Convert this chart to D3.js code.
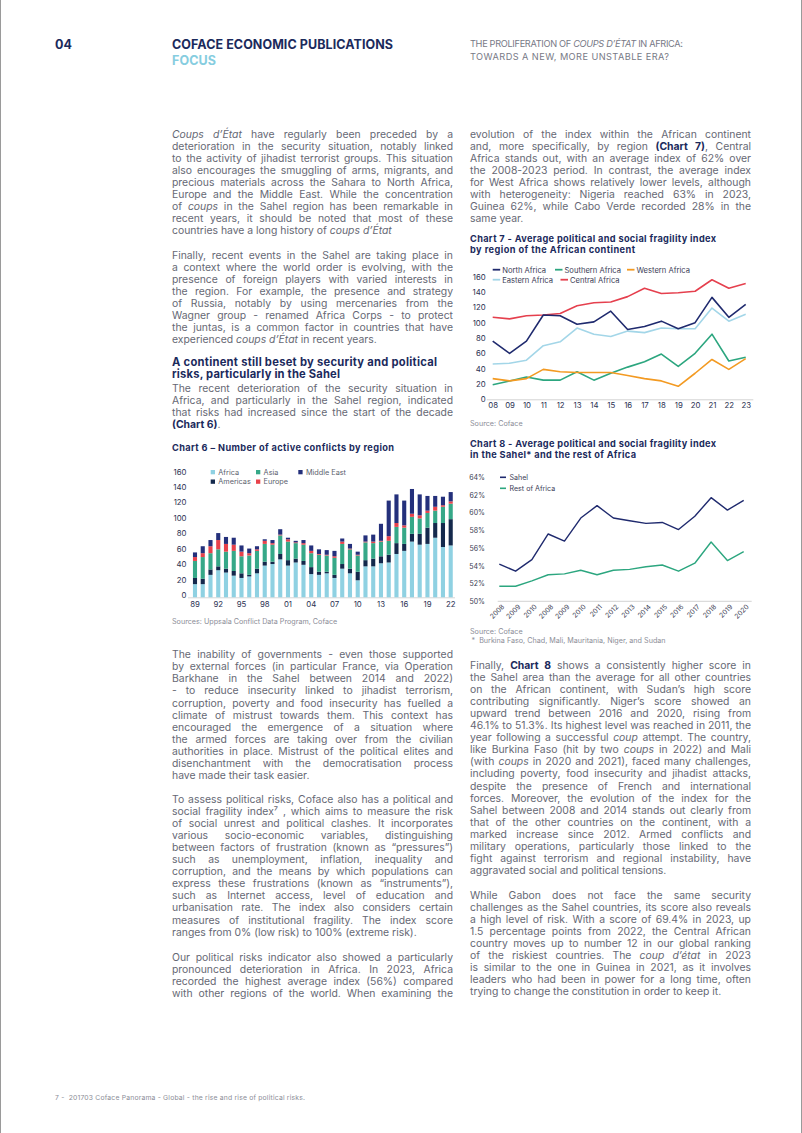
<!DOCTYPE html>
<html><head><meta charset="utf-8">
<script src="https://cdn.jsdelivr.net/npm/d3@7"></script>
<style>body{margin:0;background:#fff;} svg{display:block;}</style>
</head><body>
<svg id="page" width="802" height="1133"></svg>
<script>
// ---------------- DATA ----------------
const c6Years = d3.range(1989, 2023);
const c6TickYears = [1989,1992,1995,1998,2001,2004,2007,2010,2013,2016,2019,2022];
const c6Africa     = [17,17,29,35,32,28,25,27,31,41,43,49,41,45,42,30,29,31,25,37,31,22,40,40,44,45,56,60,72,68,69,77,65,67];
const c6Americas   = [8,7,7,5,5,6,6,2,6,5,3,7,7,5,5,9,4,2,4,6,6,11,8,10,9,10,14,9,10,14,21,19,31,34];
const c6Asia       = [22,28,21,22,22,26,22,25,23,23,22,24,24,20,21,18,22,21,22,26,25,21,23,20,19,18,21,21,22,20,19,16,21,20];
const c6Europe     = [5,5,9,12,10,8,6,3,2,4,2,1,3,1,2,3,1,1,2,3,1,1,1,2,1,6,5,3,4,4,3,5,2,3];
const c6MiddleEast = [6,9,8,9,9,9,8,6,4,2,4,7,2,2,4,7,6,6,7,4,6,4,8,9,22,46,37,32,32,27,19,14,11,12];
const c6Ticks = [0,20,40,60,80,100,120,140,160];

const c7Years = ["08","09","10","11","12","13","14","15","16","17","18","19","20","21","22","23"];
const northAfrica    = [76,60,76,110,109,98,101,115,91,95,102,92,100,133,107,124];
const southernAfrica = [19,24,29,25,25,36,25,34,42,49,59,43,60,85,50,55];
const westernAfrica  = [27,24,27,39,36,35,35,35,31,27,24,17,34,52,39,53];
const easternAfrica  = [46,47,51,70,75,93,85,82,89,87,93,92,92,119,102,111];
const centralAfrica  = [107,105,109,110,112,122,126,127,134,145,138,139,141,156,145,151];
const c7Ticks = [0,20,40,60,80,100,120,140,160];

const c8Labels = ["2008","2009","2010","2008","2009","2010","2011","2012","2013","2014","2015","2016","2017","2018","2019","2020"];
const sahel        = [54.2,53.4,54.7,57.6,56.8,59.4,60.8,59.4,59.1,58.8,58.9,58.1,59.6,61.7,60.3,61.4];
const restOfAfrica = [51.7,51.7,52.3,53.0,53.1,53.5,53.0,53.5,53.6,53.9,54.1,53.4,54.3,56.7,54.6,55.6];
const c8Ticks = [50,52,54,56,58,60,62,64];

// ---------------- STYLE ----------------
const NAVY = '#1b2a5c', GREY = '#666874', LGREY = '#8b8d97', LBLUE = '#86cde0';
const FONT = 'Inter, Lato, sans-serif';
const BFONT = 'Inter, Lato, sans-serif';
const BODY = 10.4, LH = 12.05;
const svg = d3.select('#page');

// page frame
svg.append('line').attr('x1',0.5).attr('x2',0.5).attr('y1',0).attr('y2',1133).attr('stroke','#9a9a9a');
svg.append('line').attr('x1',801.5).attr('x2',801.5).attr('y1',0).attr('y2',1133).attr('stroke','#9a9a9a');

function richText(g, x, y, str, o = {}) {
  const t = g.append('text').attr('x', x).attr('y', y)
    .attr('font-family', o.font || FONT).attr('font-size', o.size || BODY)
    .attr('fill', o.color || GREY).attr('font-weight', o.weight || 400)
    .attr('font-style', o.style || 'normal')
    .style('white-space', 'pre');
  if (o.raw) { t.text(str); return t; }
  str.split(/(\*\*[^*]+\*\*|\*[^*]+\*)/).filter(s => s.length).forEach(s => {
    const ts = t.append('tspan');
    if (s.startsWith('**') && s.endsWith('**') && s.length > 4) ts.text(s.slice(2, -2)).attr('font-weight', 700).attr('fill', NAVY);
    else if (s.startsWith('*') && s.endsWith('*') && s.length > 2) ts.text(s.slice(1, -1)).attr('font-style', 'italic');
    else ts.text(s);
  });
  return t;
}
function fitWidth(t, target) {
  const len = t.node().getComputedTextLength();
  const n = t.text().length;
  if (n > 1) t.style('letter-spacing', ((target - len) / (n - 1)) + 'px');
  return t;
}
function paragraph(x, y0, width, lines, lastJustified = false, o = {}) {
  lines.forEach((ln, i) => {
    const t = richText(svg, x, y0 + i * LH, ln, Object.assign({font: BFONT}, o));
    const plain = ln.replace(/\*/g, '');
    const justify = i < lines.length - 1 || lastJustified;
    const len = t.node().getComputedTextLength();
    const spaces = (plain.match(/ /g) || []).length;
    if (len > width) {
      t.style('letter-spacing', ((width - len) / plain.length) + 'px');
    } else if (justify && spaces) {
      t.style('word-spacing', ((width - len) / spaces) + 'px');
    }
  });
}

// ---------------- HEADER ----------------
richText(svg, 55, 48.5, '04', {size: 12.5, weight: 700, color: NAVY});
fitWidth(richText(svg, 172, 48.5, 'COFACE ECONOMIC PUBLICATIONS', {size: 12.5, weight: 700, color: NAVY}), 221);
fitWidth(richText(svg, 172, 64.5, 'FOCUS', {size: 12.5, weight: 700, color: LBLUE}), 44);
fitWidth(richText(svg, 470, 46.8, 'THE PROLIFERATION OF *COUPS D’ÉTAT* IN AFRICA:', {size: 9.2, color: '#777986'}), 213);
fitWidth(richText(svg, 470, 59.8, 'TOWARDS A NEW, MORE UNSTABLE ERA?', {size: 9.2, color: '#777986'}), 199);

// ---------------- LEFT COLUMN TEXT ----------------
const LX = 172, RX = 470, CW = 281;
paragraph(LX, 137.5, CW, [
  '*Coups d’État* have regularly been preceded by a',
  'deterioration in the security situation, notably linked',
  'to the activity of jihadist terrorist groups. This situation',
  'also encourages the smuggling of arms, migrants, and',
  'precious materials across the Sahara to North Africa,',
  'Europe and the Middle East. While the concentration',
  'of *coups* in the Sahel region has been remarkable in',
  'recent years, it should be noted that most of these',
  'countries have a long history of *coups d’État*'
]);
paragraph(LX, 258.5, CW, [
  'Finally, recent events in the Sahel are taking place in',
  'a context where the world order is evolving, with the',
  'presence of foreign players with varied interests in',
  'the region. For example, the presence and strategy',
  'of Russia, notably by using mercenaries from the',
  'Wagner group - renamed Africa Corps - to protect',
  'the juntas, is a common factor in countries that have',
  'experienced *coups d’État* in recent years.'
]);
fitWidth(richText(svg, LX, 365.5, 'A continent still beset by security and political', {size: 11.2, weight: 700, color: NAVY}), 265);
fitWidth(richText(svg, LX, 377.5, 'risks, particularly in the Sahel', {size: 11.2, weight: 700, color: NAVY}), 168);
paragraph(LX, 392, CW, [
  'The recent deterioration of the security situation in',
  'Africa, and particularly in the Sahel region, indicated',
  'that risks had increased since the start of the decade',
  '**(Chart 6)**.'
]);
fitWidth(richText(svg, LX, 450.5, 'Chart 6 – Number of active conflicts by region', {size: 9.2, weight: 700, color: NAVY}), 222);

paragraph(LX, 658.3, CW, [
  'The inability of governments - even those supported',
  'by external forces (in particular France, via Operation',
  'Barkhane in the Sahel between 2014 and 2022)',
  '- to reduce insecurity linked to jihadist terrorism,',
  'corruption, poverty and food insecurity has fuelled a',
  'climate of mistrust towards them. This context has',
  'encouraged the emergence of a situation where',
  'the armed forces are taking over from the civilian',
  'authorities in place. Mistrust of the political elites and',
  'disenchantment with the democratisation process',
  'have made their task easier.'
]);
paragraph(LX, 803, CW, [
  'To assess political risks, Coface also has a political and',
  'social fragility index⁷ , which aims to measure the risk',
  'of social unrest and political clashes. It incorporates',
  'various socio-economic variables, distinguishing',
  'between factors of frustration (known as “pressures”)',
  'such as unemployment, inflation, inequality and',
  'corruption, and the means by which populations can',
  'express these frustrations (known as “instruments”),',
  'such as Internet access, level of education and',
  'urbanisation rate. The index also considers certain',
  'measures of institutional fragility. The index score',
  'ranges from 0% (low risk) to 100% (extreme risk).'
]);
paragraph(LX, 960.5, CW, [
  'Our political risks indicator also showed a particularly',
  'pronounced deterioration in Africa. In 2023, Africa',
  'recorded the highest average index (56%) compared',
  'with other regions of the world. When examining the'
], true);

// ---------------- RIGHT COLUMN TEXT ----------------
paragraph(RX, 137.5, CW, [
  'evolution of the index within the African continent',
  'and, more specifically, by region **(Chart 7)**, Central',
  'Africa stands out, with an average index of 62% over',
  'the 2008-2023 period. In contrast, the average index',
  'for West Africa shows relatively lower levels, although',
  'with heterogeneity: Nigeria reached 63% in 2023,',
  'Guinea 62%, while Cabo Verde recorded 28% in the',
  'same year.'
]);
fitWidth(richText(svg, RX, 241.5, 'Chart 7 - Average political and social fragility index', {size: 9.2, weight: 700, color: NAVY}), 246);
fitWidth(richText(svg, RX, 252.5, 'by region of the African continent', {size: 9.2, weight: 700, color: NAVY}), 165);
fitWidth(richText(svg, RX, 446.5, 'Chart 8 - Average political and social fragility index', {size: 9.2, weight: 700, color: NAVY, raw: true}), 246);
fitWidth(richText(svg, RX, 457.5, 'in the Sahel* and the rest of Africa', {size: 9.2, weight: 700, color: NAVY, raw: true}), 166);

paragraph(RX, 669, CW, [
  'Finally, **Chart 8** shows a consistently higher score in',
  'the Sahel area than the average for all other countries',
  'on the African continent, with Sudan’s high score',
  'contributing significantly. Niger’s score showed an',
  'upward trend between 2016 and 2020, rising from',
  '46.1% to 51.3%. Its highest level was reached in 2011, the',
  'year following a successful *coup* attempt. The country,',
  'like Burkina Faso (hit by two *coups* in 2022) and Mali',
  '(with *coups* in 2020 and 2021), faced many challenges,',
  'including poverty, food insecurity and jihadist attacks,',
  'despite the presence of French and international',
  'forces. Moreover, the evolution of the index for the',
  'Sahel between 2008 and 2014 stands out clearly from',
  'that of the other countries on the continent, with a',
  'marked increase since 2012. Armed conflicts and',
  'military operations, particularly those linked to the',
  'fight against terrorism and regional instability, have',
  'aggravated social and political tensions.'
]);
paragraph(RX, 898.5, CW, [
  'While Gabon does not face the same security',
  'challenges as the Sahel countries, its score also reveals',
  'a high level of risk. With a score of 69.4% in 2023, up',
  '1.5 percentage points from 2022, the Central African',
  'country moves up to number 12 in our global ranking',
  'of the riskiest countries. The *coup d’état* in 2023',
  'is similar to the one in Guinea in 2021, as it involves',
  'leaders who had been in power for a long time, often',
  'trying to change the constitution in order to keep it.'
]);

fitWidth(richText(svg, 55, 1099.5, '7 -  201703 Coface Panorama - Global - the rise and rise of political risks.', {size: 6.8, color: LGREY, raw: true}), 250);

// ---------------- CHART 6 ----------------
const AXC = '#2b3152';
const keys6 = ['Africa','Americas','Asia','Europe','Middle East'];
const col6 = {'Africa':'#8fd1e2','Americas':'#14294c','Asia':'#36a888','Europe':'#e8424b','Middle East':'#24307b'};
const rows6 = c6Years.map((y,i)=>({year:y, 'Africa':c6Africa[i], 'Americas':c6Americas[i], 'Asia':c6Asia[i], 'Europe':c6Europe[i], 'Middle East':c6MiddleEast[i]}));
const st6 = d3.stack().keys(keys6)(rows6);
const x6 = d3.scaleBand().domain(c6Years).range([189.3, 456.4]).padding(0.47);
const y6 = d3.scaleLinear().domain([0,160]).range([597.3, 473.5]);
const g6 = svg.append('g');
g6.append('line').attr('x1',188).attr('x2',455).attr('y1',597.8).attr('y2',597.8).attr('stroke','#d6d6d6');
g6.selectAll('g.s').data(st6).join('g').attr('fill', d=>col6[d.key])
  .selectAll('rect').data(d=>d).join('rect')
  .attr('x', d=>x6(d.data.year)).attr('width', x6.bandwidth())
  .attr('y', d=>y6(d[1])).attr('height', d=>y6(d[0])-y6(d[1]));
const ya6 = g6.append('g').attr('transform','translate(186.5,-2)')
  .call(d3.axisLeft(y6).tickValues(c6Ticks).tickSize(0).tickPadding(0));
ya6.select('.domain').remove();
ya6.selectAll('text').attr('font-family',FONT).attr('font-size',7.8).attr('fill',AXC);
const xa6 = g6.append('g').attr('transform','translate(0,601.5)')
  .call(d3.axisBottom(x6).tickValues(c6TickYears).tickSize(0).tickPadding(0).tickFormat(d=>String(d).slice(2)));
xa6.select('.domain').remove();
xa6.selectAll('text').attr('font-family',FONT).attr('font-size',7.8).attr('fill',AXC);
const leg6 = [
  {k:'Africa', x:210.7, y:470}, {k:'Asia', x:256, y:470}, {k:'Middle East', x:298.3, y:470},
  {k:'Americas', x:210.7, y:479.5}, {k:'Europe', x:256, y:479.5}
];
leg6.forEach(l=>{
  g6.append('rect').attr('x',l.x).attr('y',l.y).attr('width',4.3).attr('height',4.3).attr('fill',col6[l.k]);
  g6.append('text').attr('x',l.x+7.6).attr('y',l.y+4.5).text(l.k)
    .attr('font-family',FONT).attr('font-size',7.3).attr('fill','#5c5f6e');
});
richText(svg, LX, 624.3, 'Sources: Uppsala Conflict Data Program, Coface', {size: 7.2, color: LGREY, raw: true});

// ---------------- CHART 7 ----------------
const series7 = [
  {name:'Central Africa', v:centralAfrica, c:'#e5404e'},
  {name:'Eastern Africa', v:easternAfrica, c:'#a3d6e8'},
  {name:'North Africa', v:northAfrica, c:'#1f2a6e'},
  {name:'Southern Africa', v:southernAfrica, c:'#2ca67f'},
  {name:'Western Africa', v:westernAfrica, c:'#f39a22'}
];
const x7 = d3.scalePoint().domain(c7Years).range([492.7, 745.7]);
const y7 = d3.scaleLinear().domain([0,160]).range([399.3, 276.7]);
const g7 = svg.append('g');
g7.append('line').attr('x1',486.7).attr('x2',753.3).attr('y1',399.8).attr('y2',399.8).attr('stroke','#d3d3d3');
const line7 = d3.line().x((d,i)=>x7(c7Years[i])).y(d=>y7(d));
g7.selectAll('path.s').data(series7).join('path')
  .attr('d', d=>line7(d.v)).attr('fill','none').attr('stroke', d=>d.c).attr('stroke-width',1.6)
  .attr('stroke-linejoin','round');
const ya7 = g7.append('g').attr('transform','translate(485.7,0)')
  .call(d3.axisLeft(y7).tickValues(c7Ticks).tickSize(0).tickPadding(0));
ya7.select('.domain').remove();
ya7.selectAll('text').attr('font-family',FONT).attr('font-size',7.8).attr('fill',AXC);
const xa7 = g7.append('g').attr('transform','translate(0,402.5)')
  .call(d3.axisBottom(x7).tickSize(0).tickPadding(0));
xa7.select('.domain').remove();
xa7.selectAll('text').attr('font-family',FONT).attr('font-size',7.8).attr('fill',AXC);
const leg7 = [
  {k:'North Africa', x:492.7, y:269.7}, {k:'Southern Africa', x:555, y:269.7}, {k:'Western Africa', x:627, y:269.7},
  {k:'Eastern Africa', x:492.7, y:279.7}, {k:'Central Africa', x:560.5, y:279.7}
];
leg7.forEach(l=>{
  const s = series7.find(d=>d.name===l.k);
  g7.append('line').attr('x1',l.x).attr('x2',l.x+7.5).attr('y1',l.y).attr('y2',l.y).attr('stroke',s.c).attr('stroke-width',1.8);
  g7.append('text').attr('x',l.x+9.5).attr('y',l.y+2.8).text(l.k)
    .attr('font-family',FONT).attr('font-size',7.6).attr('fill','#3d4057');
});
richText(svg, RX, 425.8, 'Source: Coface', {size: 7.2, color: LGREY, raw: true});

// ---------------- CHART 8 ----------------
const idx8 = d3.range(c8Labels.length);
const x8 = d3.scalePoint().domain(idx8).range([499.3, 743.7]);
const y8 = d3.scaleLinear().domain([50,64]).range([601.3, 477.3]);
const g8 = svg.append('g');
g8.append('line').attr('x1',497.7).attr('x2',751.7).attr('y1',601.3).attr('y2',601.3).attr('stroke','#d3d3d3');
const series8 = [{name:'Sahel', v:sahel, c:'#1f2a6e'}, {name:'Rest of Africa', v:restOfAfrica, c:'#2ca67f'}];
const line8 = d3.line().x((d,i)=>x8(i)).y(d=>y8(d));
g8.selectAll('path.s').data(series8).join('path')
  .attr('d', d=>line8(d.v)).attr('fill','none').attr('stroke', d=>d.c).attr('stroke-width',1.4)
  .attr('stroke-linejoin','round');
const ya8 = g8.append('g').attr('transform','translate(485,0)')
  .call(d3.axisLeft(y8).tickValues(c8Ticks).tickSize(0).tickPadding(0).tickFormat(d=>d+'%'));
ya8.select('.domain').remove();
ya8.selectAll('text').attr('font-family',FONT).attr('font-size',7).attr('fill','#3a3d52');
const xa8 = g8.append('g').attr('transform','translate(0,601.3)')
  .call(d3.axisBottom(x8).tickSize(0).tickFormat(i=>c8Labels[i]));
xa8.select('.domain').remove();
xa8.selectAll('text').attr('font-family',FONT).attr('font-size',6.8).attr('fill','#3a3d52')
  .attr('text-anchor','end').attr('dy',null).attr('y',0)
  .attr('transform','translate(5,6) rotate(-45)');
series8.forEach((s,i)=>{
  const y = 477.3 + i*11;
  g8.append('line').attr('x1',500).attr('x2',506).attr('y1',y).attr('y2',y).attr('stroke',s.c).attr('stroke-width',1.6);
  g8.append('text').attr('x',509.5).attr('y',y+2.6).text(s.name)
    .attr('font-family',FONT).attr('font-size',7.1).attr('fill','#3d4057');
});
richText(svg, RX, 633.5, 'Source: Coface', {size: 7.2, color: LGREY, raw: true});
richText(svg, RX + 1.5, 643, '*  Burkina Faso, Chad, Mali, Mauritania, Niger, and Sudan', {size: 7.2, color: LGREY, raw: true});
</script>
</body></html>
